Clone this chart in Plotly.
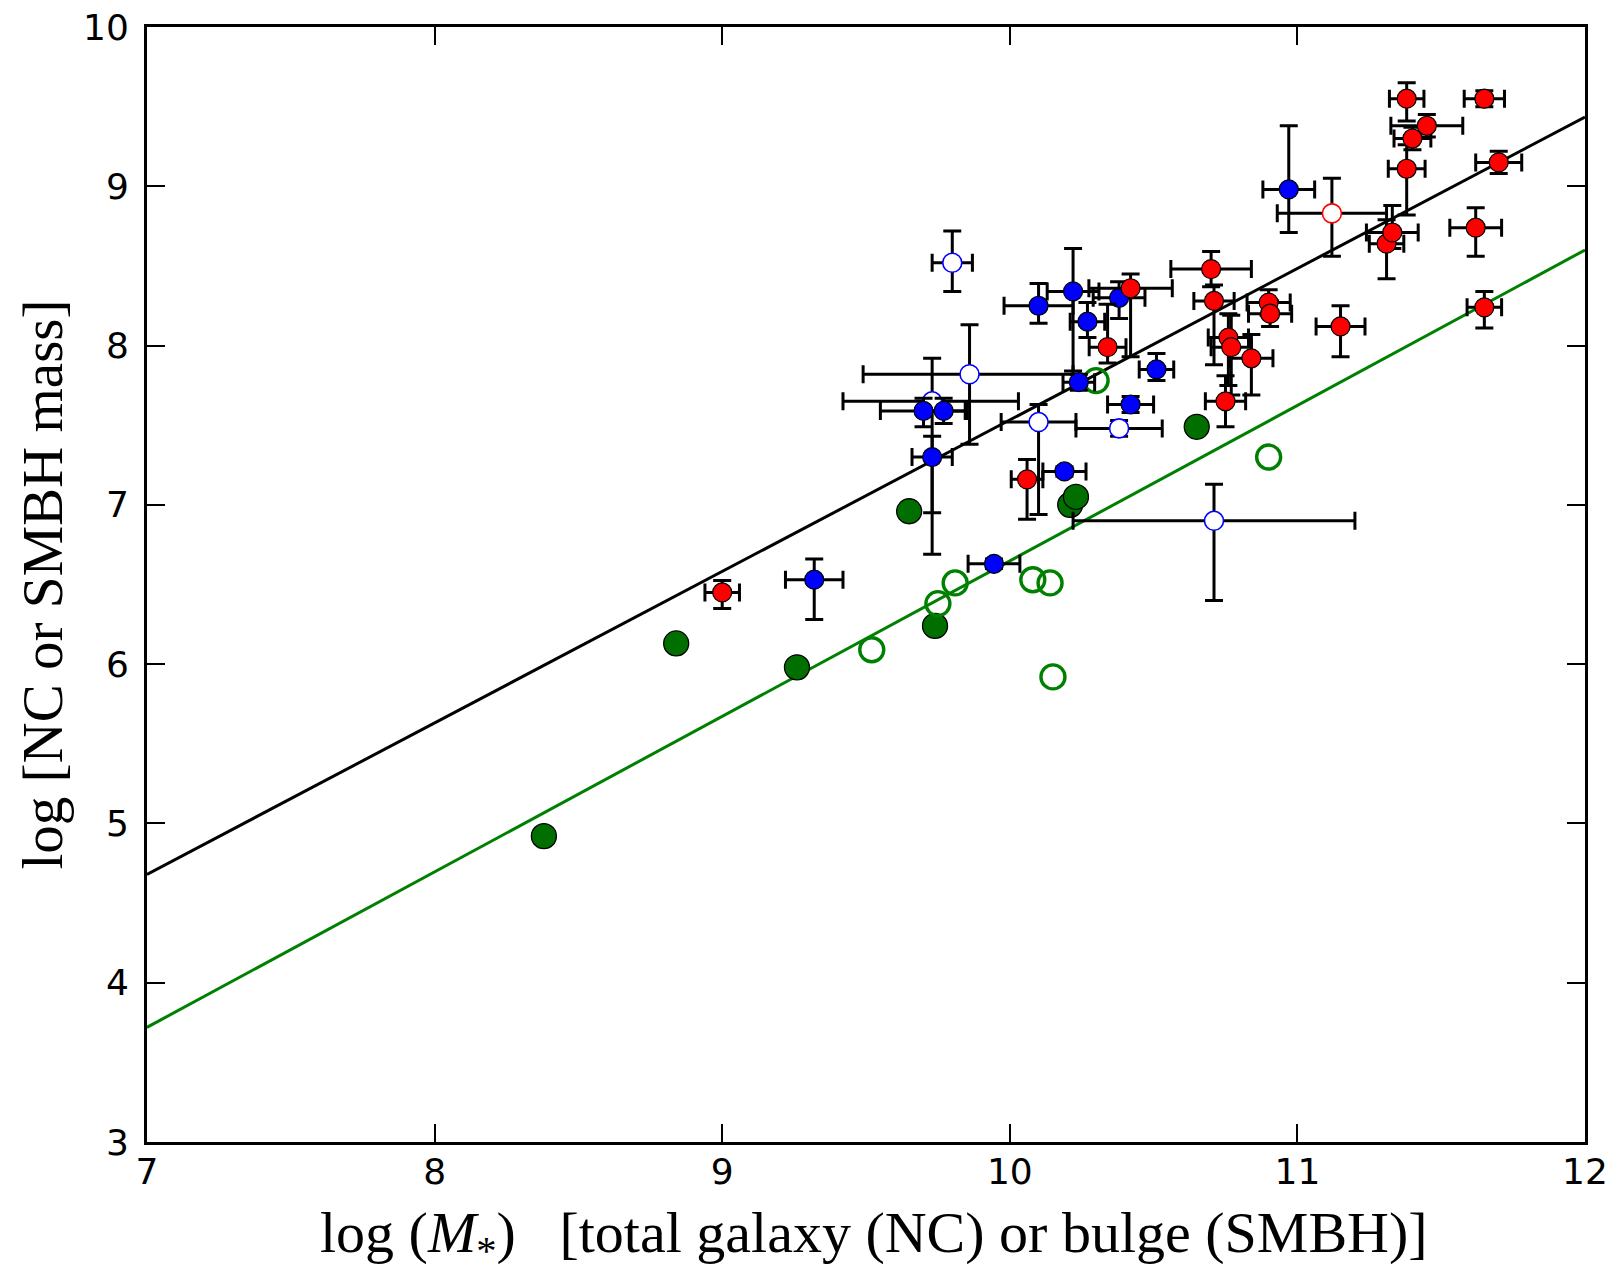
import plotly.graph_objects as go

# ---------------- data ----------------
# red filled: SMBH (x, y, xerr+, xerr-, yerr+, yerr-)
red_x = [9.00, 10.06, 10.34, 10.42, 10.70, 10.71, 10.76, 10.77, 10.84, 10.75, 10.90, 10.905,
         11.15, 11.31, 11.33, 11.38, 11.38, 11.40, 11.45, 11.65, 11.70, 11.62, 11.65]
red_y = [6.45, 7.16, 7.99, 8.36, 8.48, 8.28, 8.05, 7.99, 7.92, 7.65, 8.27, 8.20,
         8.12, 8.64, 8.71, 9.11, 9.55, 9.30, 9.38, 9.55, 9.15, 8.74, 8.24]
red_xp = [0.06, 0.055, 0.064, 0.145, 0.14, 0.07, 0.07, 0.07, 0.075, 0.07, 0.075, 0.075,
          0.085, 0.06, 0.09, 0.064, 0.06, 0.064, 0.125, 0.07, 0.08, 0.09, 0.06]
red_xm = red_xp
red_yp = [0.075, 0.125, 0.27, 0.09, 0.11, 0.10, 0.15, 0.20, 0.15, 0.16, 0.08, 0.08,
          0.13, 0.15, 0.17, 0.15, 0.10, 0.07, 0.07, 0.05, 0.07, 0.125, 0.10]
red_ym = [0.10, 0.25, 0.10, 0.43, 0.11, 0.40, 0.30, 0.30, 0.23, 0.16, 0.08, 0.08,
          0.19, 0.22, 0.10, 0.29, 0.14, 0.07, 0.07, 0.05, 0.07, 0.18, 0.13]

# red open
redo_x = [11.12]
redo_y = [8.83]
redo_xp = [0.19]
redo_xm = [0.19]
redo_yp = [0.22]
redo_ym = [0.27]

# blue filled: NC
blue_x = [9.32, 9.70, 9.77, 9.73, 9.945, 10.10, 10.22, 10.27, 10.38, 10.24, 10.42, 10.51, 10.19, 10.97]
blue_y = [6.53, 7.59, 7.59, 7.30, 6.63, 8.25, 8.34, 8.15, 8.30, 7.77, 7.63, 7.85, 7.21, 8.98]
blue_xp = [0.10, 0.15, 0.075, 0.07, 0.09, 0.12, 0.09, 0.06, 0.09, 0.055, 0.08, 0.06, 0.075, 0.09]
blue_xm = blue_xp
blue_yp = [0.13, 0.08, 0.08, 0.13, 0.03, 0.14, 0.27, 0.12, 0.10, 0.05, 0.05, 0.10, 0.03, 0.40]
blue_ym = [0.25, 0.10, 0.08, 0.61, 0.03, 0.11, 0.50, 0.10, 0.13, 0.05, 0.05, 0.07, 0.03, 0.27]

# blue open
blueo_x = [9.80, 9.86, 9.73, 10.10, 10.38, 10.71]
blueo_y = [8.52, 7.82, 7.65, 7.52, 7.48, 6.90]
blueo_xp = [0.07, 0.36, 0.30, 0.13, 0.15, 0.49]
blueo_xm = [0.07, 0.37, 0.31, 0.13, 0.15, 0.49]
blueo_yp = [0.20, 0.31, 0.27, 0.11, 0.05, 0.23]
blueo_ym = [0.18, 0.44, 0.70, 0.58, 0.05, 0.50]

# green filled / open (no error bars)
green_x = [8.38, 8.84, 9.26, 9.65, 9.74, 10.21, 10.23, 10.65]
green_y = [4.92, 6.13, 5.98, 6.96, 6.24, 7.00, 7.05, 7.49]
greeno_x = [9.52, 9.75, 9.81, 10.08, 10.14, 10.15, 10.30, 10.90]
greeno_y = [6.09, 6.38, 6.51, 6.53, 6.51, 5.92, 7.78, 7.30]

# fit lines (end values read at x = 7 and x = 12)
line_x = [7, 12]
black_line_y = [4.68, 9.435]
green_line_y = [3.72, 8.60]

x_ticks = [7, 8, 9, 10, 11, 12]
y_ticks = [3, 4, 5, 6, 7, 8, 9, 10]

x_title = "log (<i>M</i><sub>*</sub>)   [total galaxy (NC) or bulge (SMBH)]"
y_title = "log [NC or SMBH mass]"

# ---------------- figure ----------------
fig = go.Figure()

fig.add_trace(go.Scatter(x=line_x, y=black_line_y, mode="lines",
                         line=dict(color="black", width=3), showlegend=False))
fig.add_trace(go.Scatter(x=line_x, y=green_line_y, mode="lines",
                         line=dict(color="#008000", width=3), showlegend=False))


def err(p, m):
    return dict(type="data", symmetric=False, array=p, arrayminus=m,
                color="black", thickness=3, width=9)


fig.add_trace(go.Scatter(x=green_x, y=green_y, mode="markers", showlegend=False,
                         marker=dict(size=25, color="#006f00",
                                     line=dict(color="black", width=1.3))))
fig.add_trace(go.Scatter(x=greeno_x, y=greeno_y, mode="markers", showlegend=False,
                         marker=dict(size=24, color="rgba(255,255,255,0)",
                                     line=dict(color="#008000", width=3.4))))
fig.add_trace(go.Scatter(x=blueo_x, y=blueo_y, mode="markers", showlegend=False,
                         error_x=err(blueo_xp, blueo_xm), error_y=err(blueo_yp, blueo_ym),
                         marker=dict(size=19, color="white",
                                     line=dict(color="blue", width=1.6))))
fig.add_trace(go.Scatter(x=redo_x, y=redo_y, mode="markers", showlegend=False,
                         error_x=err(redo_xp, redo_xm), error_y=err(redo_yp, redo_ym),
                         marker=dict(size=19, color="white",
                                     line=dict(color="red", width=1.6))))
fig.add_trace(go.Scatter(x=blue_x, y=blue_y, mode="markers", showlegend=False,
                         error_x=err(blue_xp, blue_xm), error_y=err(blue_yp, blue_ym),
                         marker=dict(size=19, color="blue",
                                     line=dict(color="black", width=1.2))))
fig.add_trace(go.Scatter(x=red_x, y=red_y, mode="markers", showlegend=False,
                         error_x=err(red_xp, red_xm), error_y=err(red_yp, red_ym),
                         marker=dict(size=19, color="red",
                                     line=dict(color="black", width=1.2))))

axis_common = dict(showline=True, linecolor="black", linewidth=2.8, mirror="ticks",
                   ticks="inside", ticklen=18, tickwidth=1.5, tickcolor="black",
                   showgrid=False, zeroline=False, automargin=False,
                   tickfont=dict(family="DejaVu Sans", size=36, color="black"))

fig.update_xaxes(range=[7, 12], tickvals=x_ticks, ticktext=[str(t) for t in x_ticks],
                 ticklabelstandoff=-4, **axis_common)
fig.update_yaxes(range=[3, 10], tickvals=y_ticks, ticktext=[str(t) for t in y_ticks],
                 ticklabelstandoff=8,
                 title=dict(text=y_title,
                            font=dict(family="Liberation Serif", size=57, color="black"),
                            standoff=3),
                 **axis_common)

fig.add_annotation(text=x_title, xref="paper", yref="paper", x=0.5, y=0,
                   xanchor="center", yanchor="middle", xshift=8, yshift=-94,
                   showarrow=False,
                   font=dict(family="Liberation Serif", size=58, color="black"))

fig.update_layout(width=1616, height=1269,
                  margin=dict(l=147, r=31, t=27, b=127),
                  plot_bgcolor="white", paper_bgcolor="white",
                  showlegend=False)

fig.write_html("out.html")
